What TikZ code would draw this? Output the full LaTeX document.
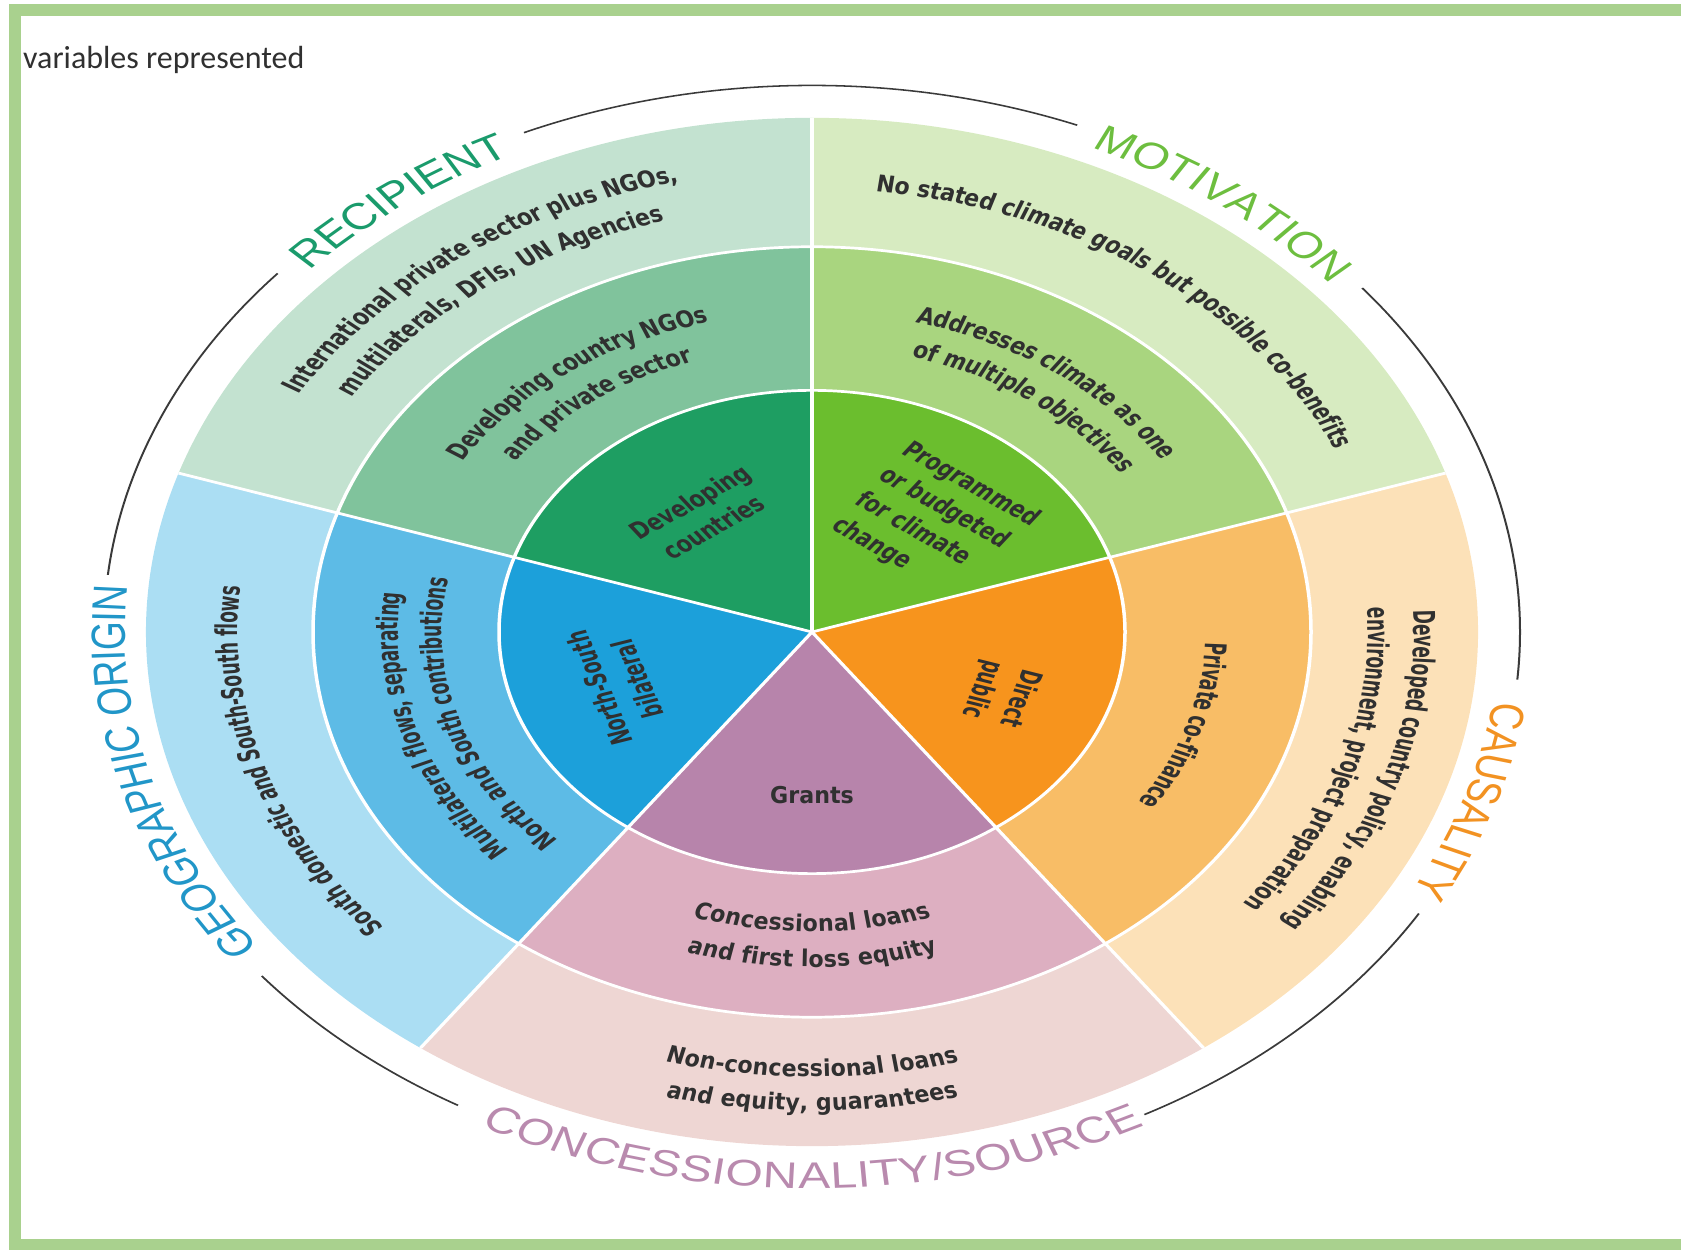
\documentclass[tikz,border=0pt]{standalone}
\usepackage{fontspec}
\usetikzlibrary{decorations.text}
\newfontfamily\segfont{DejaVu Sans Condensed Bold}[FakeStretch=0.82]
\newfontfamily\labfont{Liberation Sans}
\newfontfamily\titlefont{Carlito}
\newcommand{\segsize}{\segfont\fontsize{30}{40}\selectfont}
\newcommand{\labsize}{\labfont\fontsize{48}{48}\selectfont}
\definecolor{framegreen}{HTML}{A9D18E}
\definecolor{ink}{HTML}{303030}
\definecolor{arcgray}{HTML}{3A3A3A}
\definecolor{recA}{HTML}{1E9E62}
\definecolor{recB}{HTML}{80C39C}
\definecolor{recC}{HTML}{C3E2D0}
\definecolor{motA}{HTML}{6BBE2E}
\definecolor{motB}{HTML}{A9D57F}
\definecolor{motC}{HTML}{D7EBC1}
\definecolor{cauA}{HTML}{F7941D}
\definecolor{cauB}{HTML}{F8BD66}
\definecolor{cauC}{HTML}{FCE1B8}
\definecolor{conA}{HTML}{B784AB}
\definecolor{conB}{HTML}{DDAFC1}
\definecolor{conC}{HTML}{EED6D3}
\definecolor{geoA}{HTML}{1CA0DA}
\definecolor{geoB}{HTML}{5DBBE6}
\definecolor{geoC}{HTML}{ABDEF3}
\definecolor{recL}{HTML}{1A9B6C}
\definecolor{motL}{HTML}{6DBE3F}
\definecolor{cauL}{HTML}{F29222}
\definecolor{conL}{HTML}{B98AAE}
\definecolor{geoL}{HTML}{2196C8}

\begin{document}
\begin{tikzpicture}[x=1pt,y=1pt,
    sep/.style={white,line width=3.5},
    arcline/.style={draw=arcgray,line width=2},
    segtext/.style={font=\segsize,text=ink,align=center,inner sep=0},
    ringline/.style={decorate,decoration={text along path,text align=center,raise=-10pt,text color=ink}},
    labline/.style={decorate,decoration={text along path,text align={fit to path},raise=-17pt}}]
  \useasboundingbox (0,0) rectangle (1681,1250);
  \begin{scope}
    \clip (0,0) rectangle (1681,1250);
    \draw[framegreen,line width=12] (15,5) rectangle (1700,1240);
  \end{scope}
  \node[font=\titlefont\fontsize{32}{32}\selectfont,text=ink,anchor=base west,inner sep=0] (title) at (23,1181) {variables represented};

  \begin{scope}[transform canvas={shift={(812,618)},yscale=0.772}]
    \foreach \a/\cin/\cmid/\cout in {90/recA/recB/recC,18/motA/motB/motC,-54/cauA/cauB/cauC,-126/conA/conB/conC,162/geoA/geoB/geoC} {
      \fill[\cout] (0,0) -- (\a:666) arc[start angle=\a,end angle=\a+72,radius=666] -- cycle;
      \fill[\cmid] (0,0) -- (\a:499) arc[start angle=\a,end angle=\a+72,radius=499] -- cycle;
      \fill[\cin] (0,0) -- (\a:313) arc[start angle=\a,end angle=\a+72,radius=313] -- cycle;
    }
    \draw[sep] (0,0) circle[radius=313] (0,0) circle[radius=499];
    \foreach \a in {18,90,162,234,306}
      \draw[sep] (0,0) -- (\a:666);

    \node[segtext,rotate=36] (devc) at (126:188) {Developing\\countries};
    \node[segtext,rotate=-36,align=left] (prog) at (49:188) {Programmed\\or budgeted\\for climate\\change};
    \node[segtext,rotate=-108] (dirp) at (-23:205) {Direct\\public};
    \node[segtext] (grants) at (270:211) {Grants};
    \node[segtext,rotate=108] (nsb) at (199:205) {North-South\\bilateral};

    \path[ringline,decoration={text={|\segsize|International private sector plus NGOs,}}] (186:608) arc[start angle=186,end angle=66,radius=608];
    \path[ringline,decoration={text={|\segsize|multilaterals, DFIs, UN Agencies}}] (186:562) arc[start angle=186,end angle=66,radius=562];
    \path[ringline,decoration={text={|\segsize|Developing country NGOs}}] (186:424) arc[start angle=186,end angle=66,radius=424];
    \path[ringline,decoration={text={|\segsize|and private sector}}] (186:380) arc[start angle=186,end angle=66,radius=380];

    \path[ringline,decoration={text={|\segsize|No stated climate goals but possible co-benefits}}] (114:584) arc[start angle=114,end angle=-6,radius=584];
    \path[ringline,decoration={text={|\segsize|Addresses climate as one}}] (114:424) arc[start angle=114,end angle=-6,radius=424];
    \path[ringline,decoration={text={|\segsize|of multiple objectives}}] (114:380) arc[start angle=114,end angle=-6,radius=380];

    \path[ringline,decoration={text={|\segsize|Developed country policy, enabling}}] (42:612) arc[start angle=42,end angle=-78,radius=612];
    \path[ringline,decoration={text={|\segsize|environment, project preparation}}] (42:566) arc[start angle=42,end angle=-78,radius=566];
    \path[ringline,decoration={text={|\segsize|Private co-finance}}] (42:404) arc[start angle=42,end angle=-78,radius=404];

    \path[ringline,decoration={text={|\segsize|Concessional loans}}] (210:378) arc[start angle=210,end angle=330,radius=378];
    \path[ringline,decoration={text={|\segsize|and first loss equity}}] (210:424) arc[start angle=210,end angle=330,radius=424];
    \path[ringline,decoration={text={|\segsize|Non-concessional loans}}] (210:566) arc[start angle=210,end angle=330,radius=566];
    \path[ringline,decoration={text={|\segsize|and equity, guarantees}}] (210:610) arc[start angle=210,end angle=330,radius=610];

    \path[ringline,decoration={text={|\segsize|South domestic and South-South flows}}] (258:584) arc[start angle=258,end angle=138,radius=584];
    \path[ringline,decoration={text={|\segsize|Multilateral flows, separating}}] (258:424) arc[start angle=258,end angle=138,radius=424];
    \path[ringline,decoration={text={|\segsize|North and South contributions}}] (258:380) arc[start angle=258,end angle=138,radius=380];

    \draw[arcline] (114:708) arc[start angle=114,end angle=68,radius=708];
    \draw[arcline] (39:708) arc[start angle=39,end angle=-5,radius=708];
    \draw[arcline] (-31:708) arc[start angle=-31,end angle=-62,radius=708];
    \draw[arcline] (240:708) arc[start angle=240,end angle=219,radius=708];
    \draw[arcline] (174:708) arc[start angle=174,end angle=139,radius=708];

    \path[labline,decoration={text={|\labsize|RECIPIENT},text color=recL}] (137:704) arc[start angle=137,end angle=116,radius=704];
    \path[labline,decoration={text={|\labsize|MOTIVATION},text color=motL}] (66:704) arc[start angle=66,end angle=41,radius=704];
    \path[labline,decoration={text={|\labsize|CAUSALITY},text color=cauL}] (-7.6:704) arc[start angle=-7.6,end angle=-28.8,radius=704];
    \path[labline,decoration={text={|\labsize|CONCESSIONALITY/SOURCE},text color=conL}] (242.6:704) arc[start angle=242.6,end angle=297,radius=704];
    \path[labline,decoration={text={|\labsize|GEOGRAPHIC ORIGIN},text color=geoL}] (216.5:704) arc[start angle=216.5,end angle=176,radius=704];
  \end{scope}
\end{tikzpicture}
\end{document}
